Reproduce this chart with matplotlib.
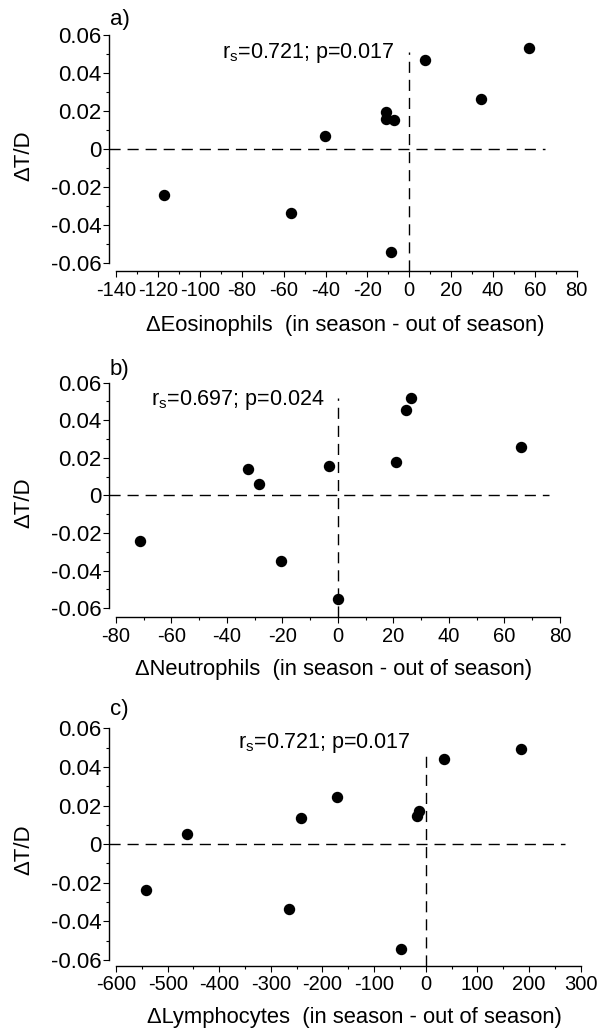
import matplotlib

matplotlib.use("Agg")

import matplotlib.pyplot as plt
from matplotlib.ticker import FuncFormatter, MultipleLocator

plt.rcParams["font.family"] = ["Liberation Sans", "DejaVu Sans"]
plt.rcParams["axes.unicode_minus"] = False

# panel a) eosinophils
eos_x = [-117.2, -56.7, -40.1, -11.3, -10.9, -7.5, -8.9, 7.5, 34.4, 57.0]
eos_y = [-0.024, -0.0335, 0.0068, 0.0195, 0.0160, 0.0150, -0.0543, 0.0468, 0.0262, 0.0530]

# panel b) neutrophils
neu_x = [-71.2, -32.3, -28.6, -20.7, -3.3, 0.1, 20.8, 24.6, 26.4, 66.0]
neu_y = [-0.0244, 0.0140, 0.0062, -0.0347, 0.0155, -0.0553, 0.0178, 0.0455, 0.0519, 0.0256]

# panel c) lymphocytes
lym_x = [-541, -462, -264, -241, -172, -47, -16, -14, 36, 184]
lym_y = [-0.0237, 0.0055, -0.0336, 0.0137, 0.0242, -0.0543, 0.0146, 0.0173, 0.0442, 0.0495]

panel_tags = ["a)", "b)", "c)"]
x_titles = [
    "\u0394Eosinophils  (in season - out of season)",
    "\u0394Neutrophils  (in season - out of season)",
    "\u0394Lymphocytes  (in season - out of season)",
]
stats = [
    "r$_\\mathregular{s}$=0.721; p=0.017",
    "r$_\\mathregular{s}$=0.697; p=0.024",
    "r$_\\mathregular{s}$=0.721; p=0.017",
]
x_ranges = [(-140, 80), (-80, 80), (-600, 300)]
x_major = [20, 20, 100]
x_minor = [10, 10, 50]

W, H = 599, 1032
fig = plt.figure(figsize=(W / 100, H / 100), dpi=100)


def rect(left, top, right, bottom):
    return [left / W, 1 - bottom / H, (right - left) / W, (bottom - top) / H]


# layout in pixels: axes box, limits, stat text anchor, dashed-line extents
layouts = [
    dict(box=(109.3, 34.7, 576.7, 271.3), xlim=(-143.3, 80), ylim=(-0.0642, 0.06),
         stat=(-7.2, 0.0504), hline_end=65, vline_top=0.051,
         tag=(110, 20), xlab=(345, 326)),
    dict(box=(109.3, 382.7, 560.0, 617.3), xlim=(-82.4, 80), ylim=(-0.0648, 0.06),
         stat=(-4.7, 0.0508), hline_end=76, vline_top=0.0516,
         tag=(110, 369), xlab=(334, 670)),
    dict(box=(109.3, 728.3, 580.6, 966.0), xlim=(-613, 300), ylim=(-0.0631, 0.06),
         stat=(-28.3, 0.0524), hline_end=270, vline_top=0.0485,
         tag=(110, 709), xlab=(354, 1018)),
]

datasets = [(eos_x, eos_y), (neu_x, neu_y), (lym_x, lym_y)]

for i, (xs, ys) in enumerate(datasets):
    lay = layouts[i]
    ax = fig.add_axes(rect(*lay["box"]))
    ax.set_xlim(*lay["xlim"])
    ax.set_ylim(*lay["ylim"])

    dash = (0, (8, 5))
    ax.plot([lay["xlim"][0], lay["hline_end"]], [0, 0], color="black", lw=1.0, linestyle=dash)
    ax.plot([0, 0], [lay["ylim"][0], lay["vline_top"]], color="black", lw=1.0, linestyle=dash)
    ax.plot(xs, ys, "o", color="black", markersize=7.2, clip_on=False)

    ax.text(lay["stat"][0], lay["stat"][1], stats[i], ha="right", va="center", fontsize=15.5)

    for side in ("top", "right"):
        ax.spines[side].set_visible(False)
    ax.spines["left"].set_bounds(-0.06, 0.06)
    ax.spines["bottom"].set_bounds(*x_ranges[i])
    for side in ("left", "bottom"):
        ax.spines[side].set_linewidth(1.0)

    ax.xaxis.set_major_locator(MultipleLocator(x_major[i]))
    ax.xaxis.set_minor_locator(MultipleLocator(x_minor[i]))
    ax.yaxis.set_major_locator(MultipleLocator(0.02))
    ax.yaxis.set_minor_locator(MultipleLocator(0.01))
    fmt = FuncFormatter(lambda v, pos: f"{round(v, 4):g}")
    ax.xaxis.set_major_formatter(fmt)
    ax.yaxis.set_major_formatter(fmt)
    ax.tick_params(which="major", length=4.3, width=0.8, pad=1.5)
    ax.tick_params(which="minor", length=2.2, width=0.8)
    ax.tick_params(axis="x", labelsize=14.5, pad=2.5)
    ax.tick_params(axis="y", labelsize=16)

    fig.text(lay["tag"][0] / W, 1 - lay["tag"][1] / H, panel_tags[i],
             ha="left", va="center", fontsize=16)
    fig.text(lay["xlab"][0] / W, 1 - lay["xlab"][1] / H, x_titles[i],
             ha="center", va="center", fontsize=15.8)
    yc = (lay["box"][1] + lay["box"][3]) / 2
    fig.text(24 / W, 1 - (yc + 3) / H, "\u0394T/D", rotation=90,
             ha="center", va="center", fontsize=16)

fig.savefig("out.png", dpi=100)
